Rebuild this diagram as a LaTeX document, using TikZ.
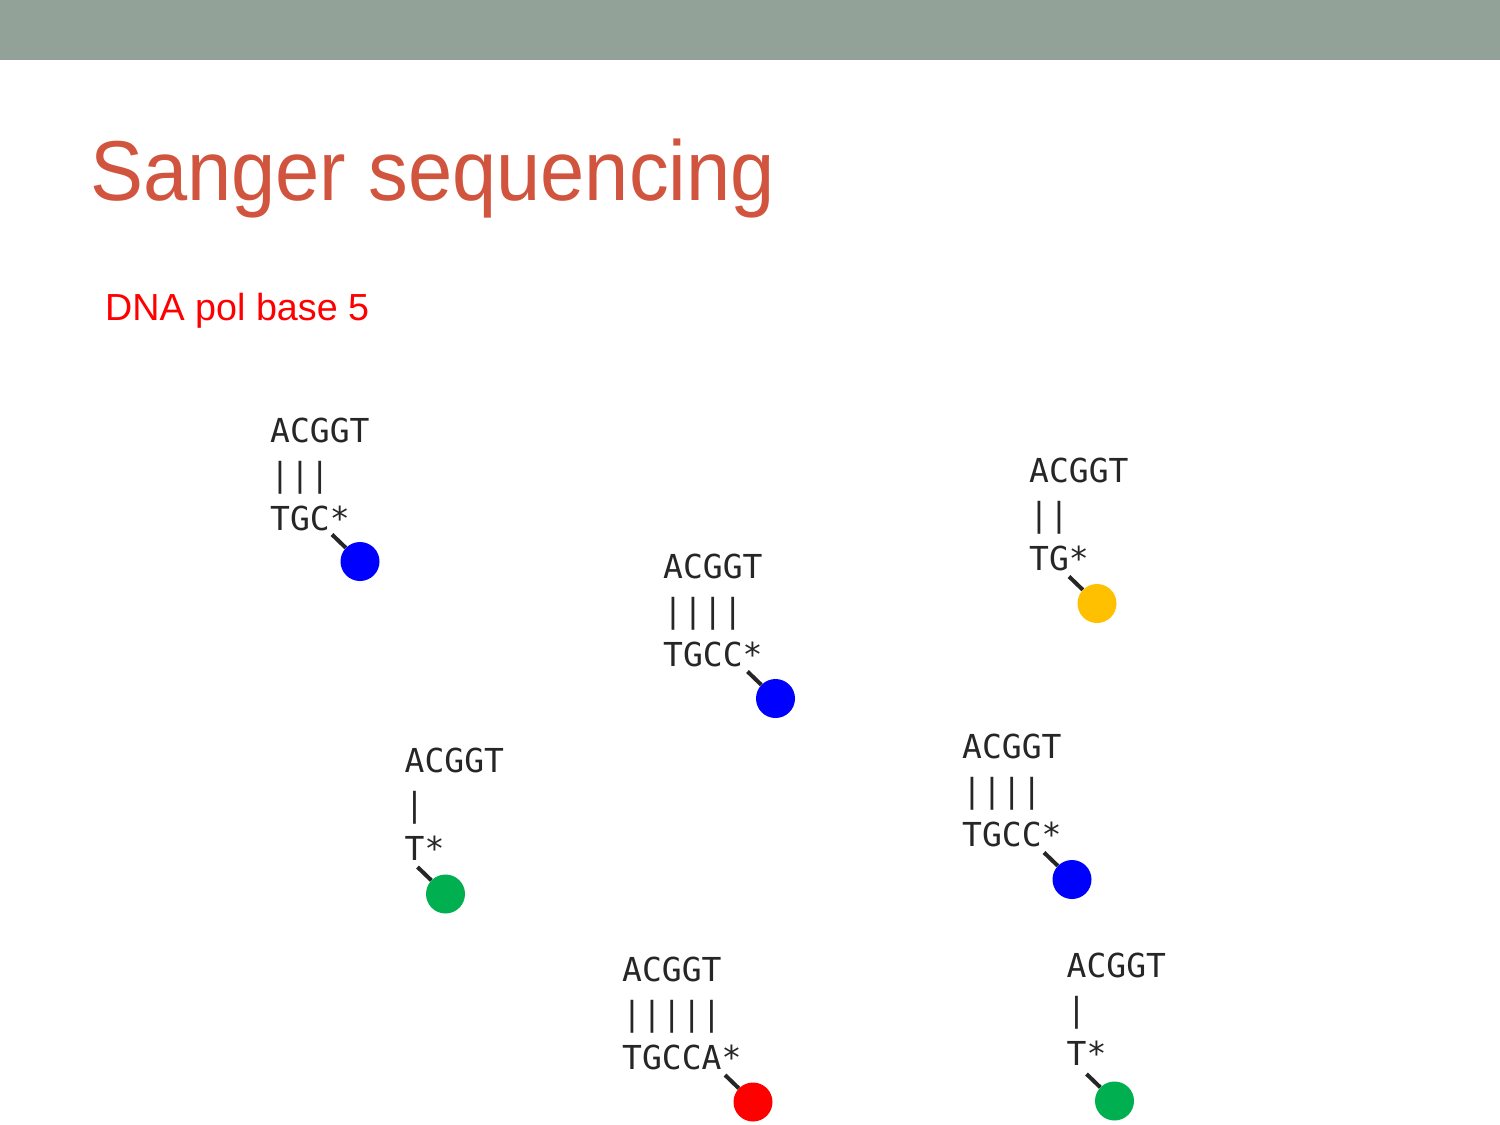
\documentclass[tikz,border=0pt]{standalone}
\usepackage{fontspec}
\setmainfont{Liberation Sans}
\newfontfamily\seqfont{DejaVu Sans Mono}
\usepackage{tikz}

\definecolor{barcol}{RGB}{147,162,153}
\definecolor{titlecol}{RGB}{209,85,62}
\definecolor{inkcol}{RGB}{38,38,38}
\definecolor{dotblue}{RGB}{0,0,255}
\definecolor{dotyellow}{RGB}{255,192,0}
\definecolor{dotgreen}{RGB}{0,176,80}
\definecolor{dotred}{RGB}{255,0,0}

\begin{document}
\begin{tikzpicture}[
    x=1pt, y=-1pt,
    strand/.style={anchor=base west, align=left, inner sep=0pt, text=inkcol,
      font=\seqfont\fontsize{33}{44}\selectfont},
    ball/.style={circle, minimum size=39pt, inner sep=0pt},
    tether/.style={line width=4pt, draw=inkcol}
  ]

  \useasboundingbox (0,0) rectangle (1500,1125);
  \fill[barcol] (0,0) rectangle (1500,60);

  \node[anchor=base west, inner sep=0pt, xscale=0.935, text=titlecol,
    font=\fontsize{85}{100}\selectfont] (title) at (90,200) {Sanger sequencing};
  \node[anchor=base west, inner sep=0pt, text=dotred,
    font=\fontsize{37.7}{45}\selectfont] (sub) at (105,320) {DNA pol base 5};

  \node[strand] (s1) at (270,530)    {ACGGT\\|||\\TGC*};
  \node[strand] (s2) at (663,666)    {ACGGT\\||||\\TGCC*};
  \node[strand] (s3) at (1029,570)   {ACGGT\\||\\TG*};
  \node[strand] (s4) at (404.5,860)  {ACGGT\\|\\T*};
  \node[strand] (s5) at (962,846)    {ACGGT\\||||\\TGCC*};
  \node[strand] (s6) at (622,1069)   {ACGGT\\|||||\\TGCCA*};
  \node[strand] (s7) at (1066.5,1065) {ACGGT\\|\\T*};

  \node[ball, fill=dotblue]   (d1) at (360,561.5)   {};
  \node[ball, fill=dotblue]   (d2) at (775.5,698.5) {};
  \node[ball, fill=dotyellow] (d3) at (1097,603.5)  {};
  \node[ball, fill=dotgreen]  (d4) at (445.5,894)   {};
  \node[ball, fill=dotblue]   (d5) at (1072,879.5)  {};
  \node[ball, fill=dotred]    (d6) at (753,1102)    {};
  \node[ball, fill=dotgreen]  (d7) at (1114.5,1101) {};

  \coordinate (t1) at (332,534.5);
  \coordinate (t2) at (747.5,671.5);
  \coordinate (t3) at (1069,576.5);
  \coordinate (t4) at (417.5,867);
  \coordinate (t5) at (1044,852.5);
  \coordinate (t6) at (725,1075);
  \coordinate (t7) at (1086.5,1074);

  \draw[tether] (t1) -- (d1);
  \draw[tether] (t2) -- (d2);
  \draw[tether] (t3) -- (d3);
  \draw[tether] (t4) -- (d4);
  \draw[tether] (t5) -- (d5);
  \draw[tether] (t6) -- (d6);
  \draw[tether] (t7) -- (d7);
\end{tikzpicture}
\end{document}
